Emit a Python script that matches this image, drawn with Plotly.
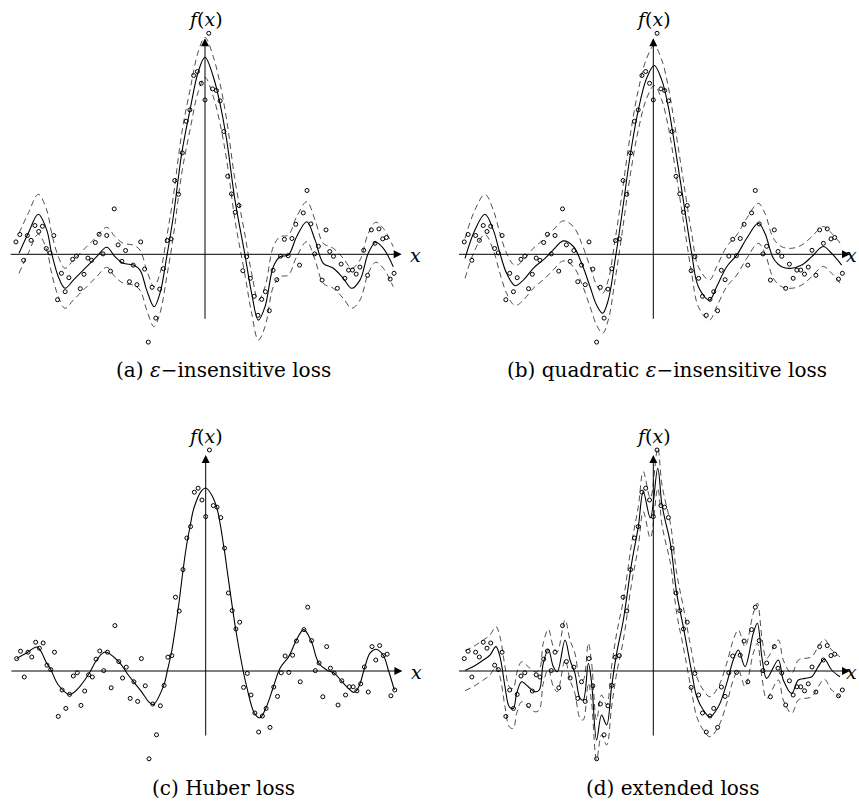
import plotly.graph_objects as go

# ---------------- data ----------------
X_DATA = [-14.14, -13.85, -13.57, -13.29, -13.01, -12.72, -12.44, -12.16, -11.87, -11.59,
          -11.31, -11.03, -10.74, -10.46, -10.18, -9.90, -9.61, -9.33, -9.05, -8.76,
          -8.48, -8.20, -7.92, -7.63, -7.35, -7.07, -6.79, -6.50, -6.22, -5.94,
          -5.65, -5.37, -5.09, -4.81, -4.52, -4.24, -3.96, -3.68, -3.39, -3.11,
          -2.83, -2.54, -2.26, -1.98, -1.70, -1.41, -1.13, -0.85, -0.57, -0.28,
          0.00,
          0.28, 0.57, 0.85, 1.13, 1.41, 1.70, 1.98, 2.26, 2.54, 2.83,
          3.11, 3.39, 3.68, 3.96, 4.24, 4.52, 4.81, 5.09, 5.37, 5.65,
          5.94, 6.22, 6.50, 6.79, 7.07, 7.35, 7.63, 7.92, 8.20, 8.48,
          8.76, 9.05, 9.33, 9.61, 9.90, 10.18, 10.46, 10.74, 11.03, 11.31,
          11.59, 11.87, 12.16, 12.44, 12.72, 13.01, 13.29, 13.57, 13.85, 14.14]

Y_DATA = [0.062, 0.099, -0.030, 0.094, 0.070, 0.144, 0.114, 0.140, 0.029, 0.007,
          0.094, -0.227, -0.095, -0.187, -0.117, -0.025, -0.009, -0.172, -0.100, -0.019,
          -0.030, 0.059, 0.100, 0.002, 0.094, -0.084, 0.227, 0.047, -0.035, 0.019,
          -0.137, -0.054, -0.152, 0.062, -0.074, -0.439, -0.165, -0.319, -0.174, -0.072,
          0.069, 0.077, 0.369, 0.300, 0.507, 0.665, 0.722, 0.894, 0.914, 0.855,
          0.772,
          1.105, 0.827, 0.819, 0.767, 0.614, 0.390, 0.302, 0.210, 0.244, -0.082,
          -0.012, -0.120, -0.210, -0.305, -0.225, -0.187, -0.282, -0.080, -0.127, -0.009,
          0.075, -0.007, 0.079, 0.150, -0.054, 0.207, 0.319, 0.152, 0.002, 0.040,
          -0.129, 0.122, 0.014, -0.010, -0.170, -0.049, -0.120, -0.079, -0.079, -0.099,
          -0.064, 0.020, -0.105, 0.122, 0.055, 0.127, 0.077, 0.084, -0.124, -0.095]

# (a) epsilon-insensitive loss fit
FIT_A_X = [-13.91, -13.22, -12.47, -11.84, -11.47, -10.97, -10.47, -9.85, -8.85, -8.10,
           -7.35, -6.73, -6.11, -5.36, -4.86, -4.36, -3.81, -3.37, -2.86, -2.37,
           -1.74, -1.12, -0.50, 0.00, 0.62, 1.12, 1.62, 2.24, 2.99, 3.49,
           3.99, 4.49, 5.11, 5.61, 6.23, 6.86, 7.61, 8.23, 8.85, 9.60,
           10.34, 10.97, 11.59, 12.21, 12.77, 13.34, 14.08]
FIT_A_Y = [0.005, 0.105, 0.200, 0.122, 0.005, -0.112, -0.170, -0.129, -0.062, -0.012,
           0.035, -0.012, -0.045, -0.054, -0.079, -0.179, -0.262, -0.195, -0.012, 0.189,
           0.505, 0.722, 0.914, 0.985, 0.888, 0.755, 0.572, 0.272, -0.004, -0.195,
           -0.329, -0.262, -0.062, -0.012, -0.004, 0.089, 0.163, 0.072, -0.045, -0.070,
           -0.120, -0.170, -0.129, 0.005, 0.060, 0.030, -0.062]

# (b) quadratic epsilon-insensitive loss fit
FIT_B_X = [-14.08, -13.34, -12.59, -11.97, -11.47, -10.97, -10.34, -9.72, -8.98, -8.10,
           -7.48, -6.73, -5.98, -5.36, -4.73, -4.24, -3.79, -3.37, -2.86, -2.37,
           -1.74, -1.12, -0.50, 0.07, 0.63, 1.12, 1.62, 2.24, 2.87, 3.37,
           4.19, 4.74, 5.49, 6.24, 6.99, 7.85, 8.35, 8.98, 9.60, 10.35,
           11.10, 11.85, 12.71, 13.34, 14.09]
FIT_B_Y = [-0.020, 0.122, 0.200, 0.122, 0.005, -0.095, -0.157, -0.129, -0.070, -0.020,
           0.022, 0.067, 0.039, -0.045, -0.162, -0.254, -0.295, -0.229, -0.029, 0.189,
           0.489, 0.722, 0.880, 0.944, 0.872, 0.738, 0.538, 0.272, 0.005, -0.162,
           -0.229, -0.162, -0.062, -0.004, 0.080, 0.155, 0.105, -0.020, -0.062, -0.070,
           -0.054, -0.012, 0.039, 0.005, -0.054]

# (c) Huber loss fit
FIT_C_X = [-14.14, -13.31, -12.60, -11.89, -11.59, -11.02, -10.20, -9.65, -8.78, -8.15,
           -7.53, -6.51, -5.79, -5.39, -4.79, -4.26, -3.92, -3.14, -2.84, -2.57,
           -2.30, -2.00, -1.72, -1.45, -1.15, -0.88, -0.30, 0.00, 0.37, 0.82,
           1.37, 1.67, 2.24, 2.79, 3.07, 3.64, 4.06, 4.49, 5.06, 5.56,
           6.21, 6.75, 7.33, 7.88, 8.45, 9.05, 9.60, 10.14, 10.67, 11.04,
           11.26, 11.54, 11.91, 12.29, 12.74, 13.28, 13.66, 14.11]
FIT_C_Y = [0.062, 0.094, 0.120, 0.039, 0.007, -0.070, -0.117, -0.095, -0.019, 0.055,
           0.095, 0.047, -0.020, -0.054, -0.104, -0.154, -0.167, -0.072, 0.010, 0.090,
           0.200, 0.340, 0.490, 0.620, 0.730, 0.815, 0.902, 0.915, 0.889, 0.819,
           0.614, 0.472, 0.210, 0.005, -0.079, -0.210, -0.234, -0.187, -0.080, 0.014,
           0.072, 0.150, 0.207, 0.152, 0.040, 0.005, -0.010, -0.049, -0.087, -0.107,
           -0.099, -0.064, 0.022, 0.089, 0.109, 0.079, 0.005, -0.095]

# (d) extended loss fit
FIT_D_X = [-14.08, -13.46, -12.71, -12.21, -11.77, -11.47, -11.09, -10.77, -10.47, -10.22,
           -9.85, -9.35, -8.85, -8.53, -8.23, -7.85, -7.48, -7.18, -6.60, -6.23,
           -5.86, -5.48, -5.24, -4.86, -4.61, -4.24, -3.87, -3.49, -3.12, -2.74,
           -2.24, -1.62, -1.12, -0.75, -0.22, 0.33, 0.63, 0.88, 1.12, 1.32,
           1.75, 2.24, 2.87, 3.25, 3.74, 4.24, 4.86, 5.49, 5.98, 6.36,
           6.86, 7.48, 7.78, 8.15, 8.48, 9.35, 9.72, 10.35, 10.85, 11.35,
           11.85, 12.34, 12.79, 13.34, 13.96]
FIT_D_Y = [0.002, 0.022, 0.055, 0.080, 0.122, 0.072, -0.079, -0.179, -0.187, -0.112,
           -0.054, -0.079, -0.104, -0.095, 0.039, 0.109, 0.022, -0.004, 0.155, 0.055,
           -0.012, -0.137, -0.145, 0.039, -0.062, -0.345, -0.220, -0.270, -0.079, 0.089,
           0.255, 0.539, 0.722, 0.897, 0.765, 1.014, 0.839, 0.755, 0.689, 0.622,
           0.389, 0.222, -0.004, -0.129, -0.195, -0.229, -0.179, -0.062, 0.055, 0.105,
           0.022, 0.189, 0.239, 0.055, -0.037, 0.055, -0.045, -0.112, -0.045, -0.037,
           -0.029, 0.022, 0.059, 0.005, -0.029]

EPSILON = 0.1
CAPTIONS = ["(a) <i>ε</i>−insensitive loss",
            "(b) quadratic <i>ε</i>−insensitive loss",
            "(c) Huber loss",
            "(d) extended loss"]
X_LABEL = "<i>x</i>"
Y_LABEL = "<i>f</i>(<i>x</i>)"

# ---------------- layout geometry ----------------
W, H = 859, 801
SERIF = "DejaVu Serif, Liberation Serif, serif"

panels = [
    dict(fx=FIT_A_X, fy=FIT_A_Y, band=True, xdom=(4.45, 405.55), ox=205.0, oy=254.3,
         cap=(224, 370), xlab=(415, "center")),
    dict(fx=FIT_B_X, fy=FIT_B_Y, band=True, xdom=(452.75, 853.85), ox=653.3, oy=254.3,
         cap=(667, 370), xlab=(859, "right")),
    dict(fx=FIT_C_X, fy=FIT_C_Y, band=False, xdom=(5.15, 406.25), ox=205.7, oy=671.0,
         cap=(224, 788), xlab=(416, "center")),
    dict(fx=FIT_D_X, fy=FIT_D_Y, band=True, xdom=(452.75, 853.85), ox=653.3, oy=671.0,
         cap=(672, 788), xlab=(859, "right")),
]

YR = (-0.5, 1.2)   # 200 px per unit
fig = go.Figure()
annotations = []

for i, p in enumerate(panels):
    n = "" if i == 0 else str(i + 1)
    xa, ya = "x" + n, "y" + n
    top_px = p["oy"] - YR[1] * 200
    bot_px = p["oy"] - YR[0] * 200
    fig.update_layout(**{
        "xaxis" + n: dict(domain=[p["xdom"][0] / W, p["xdom"][1] / W], range=[-15, 15],
                          visible=False, anchor=ya, fixedrange=True),
        "yaxis" + n: dict(domain=[(H - bot_px) / H, (H - top_px) / H], range=list(YR),
                          visible=False, anchor=xa, fixedrange=True),
    })
    if p["band"]:
        for sgn in (1, -1):
            fig.add_trace(go.Scatter(
                x=p["fx"], y=[v + sgn * EPSILON for v in p["fy"]],
                mode="lines", line=dict(color="#222", width=0.8, dash="6px,4px", shape="spline"),
                xaxis=xa, yaxis=ya, hoverinfo="skip", cliponaxis=False))
    fig.add_trace(go.Scatter(
        x=p["fx"], y=p["fy"], mode="lines",
        line=dict(color="black", width=1.1, shape="spline"),
        xaxis=xa, yaxis=ya, hoverinfo="skip", cliponaxis=False))
    fig.add_trace(go.Scatter(
        x=X_DATA, y=Y_DATA, mode="markers",
        marker=dict(symbol="circle-open", size=4, color="black", line=dict(width=1)),
        xaxis=xa, yaxis=ya, hoverinfo="skip", cliponaxis=False))

    # axes with arrows
    annotations.append(dict(x=14.71, y=0, ax=-14.64, ay=0, xref=xa, yref=ya, axref=xa, ayref=ya,
                            text="", showarrow=True, arrowhead=2, arrowsize=1.6, arrowwidth=1,
                            arrowcolor="black"))
    annotations.append(dict(x=0, y=1.08, ax=0, ay=-0.33, xref=xa, yref=ya, axref=xa, ayref=ya,
                            text="", showarrow=True, arrowhead=2, arrowsize=1.6, arrowwidth=1,
                            arrowcolor="black"))
    annotations.append(dict(x=p["ox"] / W, y=1 - (p["oy"] - 235) / H, xref="paper", yref="paper",
                            text=Y_LABEL, showarrow=False,
                            font=dict(family=SERIF, size=19, color="black"),
                            xanchor="center", yanchor="middle"))
    annotations.append(dict(x=p["xlab"][0] / W, y=1 - (p["oy"] + 1) / H, xref="paper", yref="paper",
                            text=X_LABEL, showarrow=False,
                            font=dict(family=SERIF, size=19, color="black"),
                            xanchor=p["xlab"][1], yanchor="middle"))
    annotations.append(dict(x=p["cap"][0] / W, y=1 - p["cap"][1] / H, xref="paper", yref="paper",
                            text=CAPTIONS[i], showarrow=False,
                            font=dict(family=SERIF, size=20, color="black"),
                            xanchor="center", yanchor="middle"))

fig.update_layout(width=W, height=H, margin=dict(l=0, r=0, t=0, b=0),
                  paper_bgcolor="white", plot_bgcolor="white", showlegend=False,
                  annotations=annotations)

fig.write_html("out.html", config={"displayModeBar": False},
               post_script="document.body.style.margin='0';document.body.style.overflow='hidden';")
